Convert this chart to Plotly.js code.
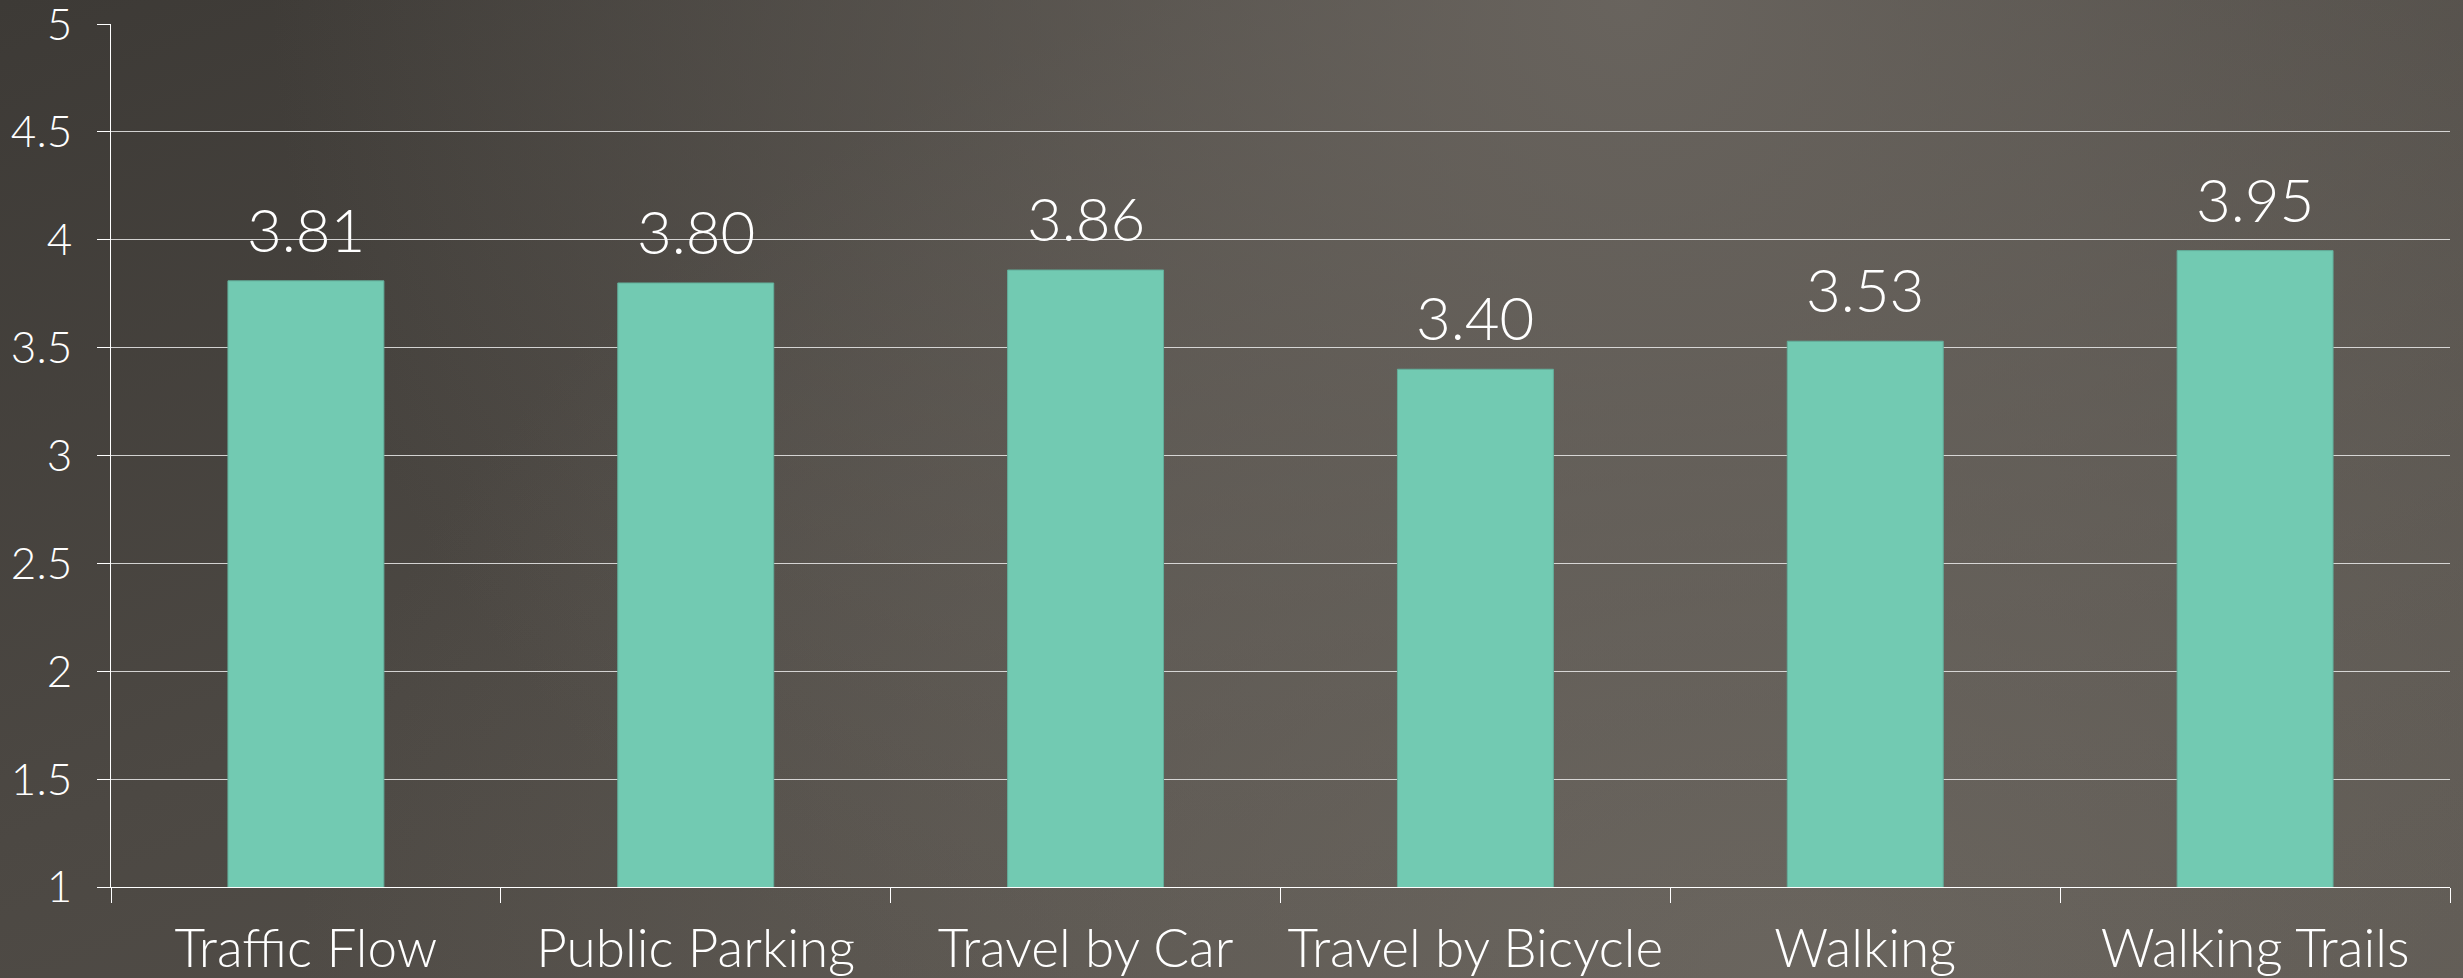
<!DOCTYPE html>
<html>
<head>
<meta charset="utf-8">
<script src="https://cdn.plot.ly/plotly-3.0.1.min.js"></script>
<style>
html,body{margin:0;padding:0;width:2463px;height:978px;overflow:hidden;}
body{
  background:
    radial-gradient(ellipse 55% 120% at 66% 0%, rgba(106,101,95,0.95) 0%, rgba(106,101,95,0) 100%),
    radial-gradient(ellipse 60% 110% at 72% 100%, rgba(108,103,96,0.9) 0%, rgba(108,103,96,0) 100%),
    linear-gradient(160deg, #3d3a36 0%, #4c4843 45%, #5a554f 100%);
}
#chart{width:2463px;height:978px;}
</style>
</head>
<body>
<div id="chart"></div>
<script>
const categories = ["Traffic Flow", "Public Parking", "Travel by Car", "Travel by Bicycle", "Walking", "Walking Trails"];
const values = [3.81, 3.80, 3.86, 3.40, 3.53, 3.95];
const valueLabels = ["3.81", "3.80", "3.86", "3.40", "3.53", "3.95"];
const yTickValues = [1, 1.5, 2, 2.5, 3, 3.5, 4, 4.5, 5];
const yTickLabels = ["1", "1.5", "2", "2.5", "3", "3.5", "4", "4.5", "5"];

const FONT = "Lato, 'Open Sans', sans-serif";

const trace = {
  type: "bar",
  x: categories,
  y: values,
  marker: {color: "#72cab2", line: {color: "#62ae9a", width: 1}},
  width: 0.4,
  hoverinfo: "none",
  cliponaxis: true
};

const annotations = categories.map((c, i) => ({
  x: c, y: values[i], xref: "x", yref: "y",
  text: valueLabels[i], showarrow: false,
  yanchor: "bottom", yshift: 14,
  font: {family: FONT, size: 60, color: "#ffffff", weight: 300}
}));

const layout = {
  width: 2463, height: 978,
  margin: {l: 111, r: 13, t: 24, b: 91},
  paper_bgcolor: "rgba(0,0,0,0)",
  plot_bgcolor: "rgba(0,0,0,0)",
  showlegend: false,
  xaxis: {
    type: "category",
    showline: true, linecolor: "#ffffff", linewidth: 1,
    ticks: "outside", tickson: "boundaries", ticklen: 15, tickcolor: "#ffffff", tickwidth: 1,
    showgrid: false,
    tickfont: {family: FONT, size: 53, color: "#ffffff", weight: 300},
    ticklabelstandoff: 15
  },
  yaxis: {
    range: [1, 5.0005],
    tickvals: yTickValues,
    ticktext: yTickLabels,
    showline: true, linecolor: "#ffffff", linewidth: 1,
    ticks: "outside", ticklen: 13, tickcolor: "#ffffff", tickwidth: 1,
    showgrid: true, gridcolor: "rgba(235,235,235,0.85)", gridwidth: 1,
    zeroline: false,
    tickfont: {family: FONT, size: 44, color: "#ffffff", weight: 300},
    ticklabelstandoff: 16,
    ticklabeloverflow: "allow"
  },
  annotations: annotations
};

Plotly.newPlot("chart", [trace], layout, {displayModeBar: false, staticPlot: true});
</script>
</body>
</html>
